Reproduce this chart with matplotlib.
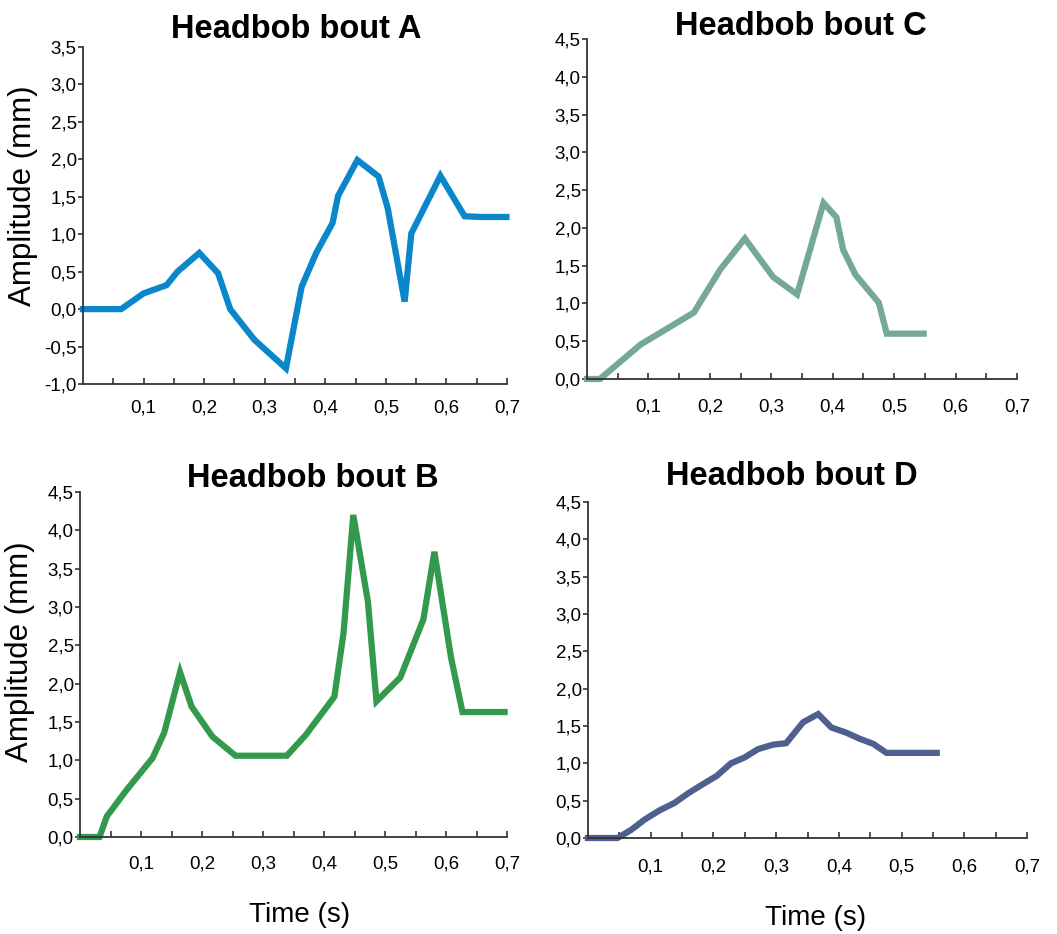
import matplotlib
matplotlib.use("Agg")
import matplotlib.pyplot as plt
from matplotlib.ticker import FixedLocator, FuncFormatter

plt.rcParams["font.family"] = ["Liberation Sans", "DejaVu Sans"]

# ── datos ──
t_a = [0.0, 0.063, 0.100, 0.138, 0.156, 0.192, 0.223, 0.243, 0.283, 0.335, 0.350,
       0.361, 0.385, 0.412, 0.421, 0.453, 0.488, 0.503, 0.531, 0.542, 0.590, 0.630,
       0.658, 0.699]
amp_a = [0.0, 0.0, 0.21, 0.32, 0.50, 0.75, 0.48, 0.0, -0.41, -0.79, -0.16,
         0.30, 0.75, 1.15, 1.51, 1.99, 1.77, 1.35, 0.10, 1.01, 1.78, 1.24,
         1.23, 1.23]

t_b = [0.0, 0.032, 0.044, 0.077, 0.119, 0.138, 0.164, 0.183, 0.217, 0.255, 0.299,
       0.339, 0.370, 0.417, 0.432, 0.448, 0.472, 0.486, 0.525, 0.563, 0.581, 0.608,
       0.627, 0.696]
amp_b = [0.0, 0.0, 0.27, 0.62, 1.03, 1.36, 2.15, 1.70, 1.31, 1.06, 1.06,
         1.06, 1.33, 1.83, 2.66, 4.20, 3.07, 1.77, 2.08, 2.84, 3.72, 2.35,
         1.63, 1.63]

t_c = [0.0, 0.021, 0.087, 0.174, 0.217, 0.257, 0.303, 0.342, 0.385, 0.406, 0.417,
       0.437, 0.475, 0.488, 0.548]
amp_c = [0.0, 0.0, 0.455, 0.88, 1.45, 1.86, 1.35, 1.12, 2.33, 2.14, 1.71,
         1.38, 1.01, 0.60, 0.60]

t_d = [0.0, 0.047, 0.069, 0.090, 0.114, 0.138, 0.160, 0.181, 0.205, 0.228, 0.250,
       0.271, 0.295, 0.316, 0.343, 0.367, 0.388, 0.412, 0.433, 0.455, 0.476, 0.556]
amp_d = [0.0, 0.0, 0.11, 0.245, 0.37, 0.47, 0.60, 0.71, 0.83, 1.00, 1.08,
         1.19, 1.25, 1.27, 1.55, 1.66, 1.48, 1.41, 1.33, 1.26, 1.14, 1.14]

x_major = [0.1, 0.2, 0.3, 0.4, 0.5, 0.6, 0.7]
x_minor = [0.05, 0.15, 0.25, 0.35, 0.45, 0.55, 0.65]
y_ticks_a = [-1.0, -0.5, 0.0, 0.5, 1.0, 1.5, 2.0, 2.5, 3.0, 3.5]
y_ticks = [0.0, 0.5, 1.0, 1.5, 2.0, 2.5, 3.0, 3.5, 4.0, 4.5]

W, H = 1057, 934


def _coma(v, _pos=None):
    """Formato decimal con coma."""
    return f"{v:.1f}".replace(".", ",")


def _panel(fig, caja, t, amp, color, yticks, titulo, titulo_xy, xpad):
    izq, arriba, der, abajo = caja
    ax = fig.add_axes([izq / W, 1 - abajo / H, (der - izq) / W, (abajo - arriba) / H])
    ax.plot(t, amp, color=color, lw=4.5, solid_joinstyle="miter", clip_on=False)
    ax.set_xlim(0, 0.7)
    ax.set_ylim(yticks[0], yticks[-1])
    for s in ("top", "right"):
        ax.spines[s].set_visible(False)
    for s in ("left", "bottom"):
        ax.spines[s].set_color("#333333")
        ax.spines[s].set_linewidth(1.3)
    ax.xaxis.set_major_locator(FixedLocator(x_major))
    ax.xaxis.set_minor_locator(FixedLocator(x_minor))
    ax.xaxis.set_major_formatter(FuncFormatter(_coma))
    ax.yaxis.set_major_locator(FixedLocator(yticks))
    ax.yaxis.set_major_formatter(FuncFormatter(_coma))
    ax.tick_params(axis="x", which="both", direction="in", length=4, width=1.2,
                   color="#333333", pad=xpad, labelsize=13.5)
    ax.tick_params(axis="y", direction="out", length=3.5, width=1.2,
                   color="#333333", pad=1, labelsize=13.5)
    fig.text(titulo_xy[0] / W, 1 - titulo_xy[1] / H, titulo, ha="center",
             va="baseline", fontsize=23.5, fontweight="bold")
    return ax


fig = plt.figure(figsize=(W / 100, H / 100), dpi=100)

_panel(fig, (83, 47, 507, 384), t_a, amp_a, "#0A87CB", y_ticks_a,
       "Headbob bout A", (296, 38), 11)
_panel(fig, (80, 492, 507, 837), t_b, amp_b, "#33994D", y_ticks,
       "Headbob bout B", (313, 487), 13)
_panel(fig, (587, 39, 1017, 379), t_c, amp_c, "#76A994", y_ticks,
       "Headbob bout C", (801, 35), 14)
_panel(fig, (588, 502, 1027, 838), t_d, amp_d, "#4F5F8F", y_ticks,
       "Headbob bout D", (792, 485), 15)

for x, y in ((23, 196), (20, 652)):
    fig.text(x / W, 1 - y / H, "Amplitude (mm)", rotation=90, ha="center",
             va="center", fontsize=22.5)
for x, y in ((300, 915), (816, 918)):
    fig.text(x / W, 1 - y / H, "Time (s)", ha="center", va="center", fontsize=20)

fig.savefig("out.png", dpi=100)
